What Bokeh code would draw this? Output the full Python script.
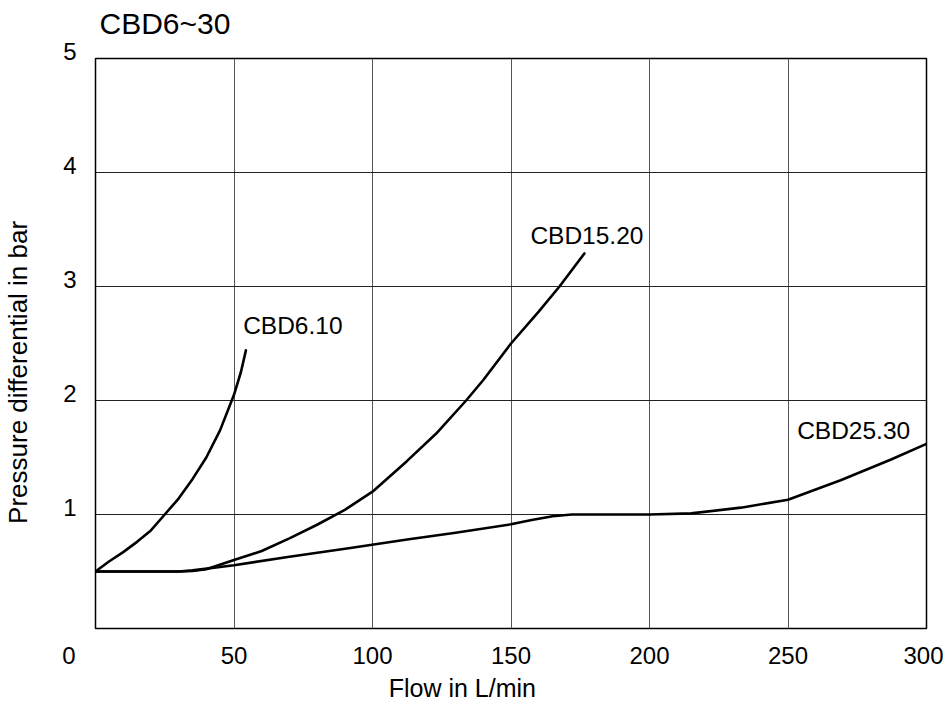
from bokeh.plotting import figure
from bokeh.models import FixedTicker, Range1d
from bokeh.embed import file_html
from bokeh.resources import INLINE
from bokeh.core.properties import value

# ---- data ----
x_ticks = [0, 50, 100, 150, 200, 250, 300]
x_grid = [50, 100, 150, 200, 250, 300]
y_ticks = [1, 2, 3, 4, 5]

cbd610_flow = [0, 5, 10, 15, 20, 25, 30, 35, 40, 45, 50, 52.5, 54.3]
cbd610_dp = [0.50, 0.59, 0.67, 0.76, 0.86, 1.00, 1.14, 1.31, 1.50, 1.74, 2.05, 2.25, 2.44]

cbd1520_flow = [0, 30, 35, 40, 50, 60, 70, 80, 90, 100, 112.5, 123, 133.8, 140, 150, 160, 167.5, 176.5]
cbd1520_dp = [0.50, 0.50, 0.505, 0.52, 0.60, 0.68, 0.79, 0.91, 1.04, 1.20, 1.47, 1.71, 2.00, 2.18, 2.50, 2.78, 3.00, 3.29]

cbd2530_flow = [0, 30, 35, 50, 70, 92, 112.5, 130, 150, 157, 165, 172, 200, 215, 233, 250, 269, 287, 300]
cbd2530_dp = [0.50, 0.50, 0.51, 0.555, 0.63, 0.706, 0.78, 0.84, 0.914, 0.95, 0.985, 1.00, 1.00, 1.01, 1.06, 1.13, 1.30, 1.48, 1.62]

curve_names = ["CBD6.10", "CBD15.20", "CBD25.30"]

# ---- styling / placement ----
FONT = "Liberation Sans"
NB = "\u00a0"
label_x = [53.3, 157, 253.3]
label_y = [2.66, 3.45, 1.74]

p = figure(width=943, height=704, output_backend="svg", toolbar_location=None,
           x_range=Range1d(0, 300), y_range=Range1d(0, 5),
           min_border_left=95, min_border_right=17, min_border_top=58, min_border_bottom=76,
           title="CBD6~30\n")

p.background_fill_color = "white"
p.border_fill_color = "white"
p.outline_line_color = "black"
p.outline_line_width = 1.5

p.title.align = "left"
p.title.offset = 4
p.title.text_font = FONT
p.title.text_font_size = "30px"
p.title.text_font_style = "normal"
p.title.text_color = "black"
p.title.text_line_height = 0.5
p.title.standoff = 4

for ax in (p.xaxis[0], p.yaxis[0]):
    ax.axis_line_color = None
    ax.major_tick_line_color = None
    ax.minor_tick_line_color = None
    ax.major_tick_out = 0
    ax.major_tick_in = 0
    ax.minor_tick_out = 0
    ax.minor_tick_in = 0
    ax.major_label_text_font = FONT
    ax.major_label_text_font_size = "24px"
    ax.major_label_text_color = "black"
    ax.axis_label_text_font = FONT
    ax.axis_label_text_font_style = "normal"
    ax.axis_label_text_color = "black"

p.xaxis.ticker = FixedTicker(ticks=x_ticks)
p.xaxis.major_label_overrides = {0: "0" + NB * 8}
p.yaxis.ticker = FixedTicker(ticks=y_ticks)
p.yaxis.major_label_overrides = {t: str(t) + "\n" for t in y_ticks}
p.yaxis.major_label_text_line_height = 0.5
p.xaxis.major_label_standoff = 13
p.yaxis.major_label_standoff = 19
p.xaxis.axis_label = "Flow in L/min" + NB * 14
p.yaxis.axis_label = "Pressure differential in bar" + NB * 8
p.xaxis.axis_label_text_font_size = "25px"
p.yaxis.axis_label_text_font_size = "26px"
p.xaxis.axis_label_standoff = 2
p.yaxis.axis_label_standoff = 27

p.xgrid.ticker = FixedTicker(ticks=x_grid)
p.ygrid.ticker = FixedTicker(ticks=y_ticks)
p.xgrid.grid_line_color = "#555555"
p.ygrid.grid_line_color = "#222222"
p.xgrid.grid_line_width = 1
p.ygrid.grid_line_width = 1

for fx, fy in ((cbd610_flow, cbd610_dp), (cbd1520_flow, cbd1520_dp), (cbd2530_flow, cbd2530_dp)):
    p.line(fx, fy, line_color="black", line_width=2.6, line_join="round", line_cap="round")

p.text(x=label_x, y=label_y, text=curve_names, text_font=value(FONT),
       text_font_size="24.5px", text_align="left", text_baseline="middle", text_color="black")

open("out.html", "w").write(file_html(p, INLINE))
